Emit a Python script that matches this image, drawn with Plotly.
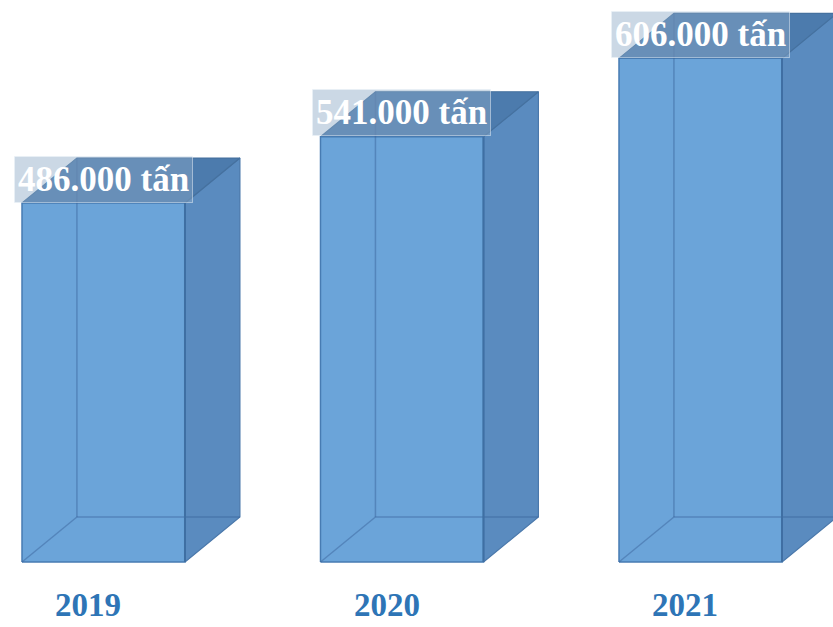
import plotly.graph_objects as go

# ---- data ----
years = ["2019", "2020", "2021"]
values = [486, 541, 606]          # nghìn tấn
labels = ["486.000 tấn", "541.000 tấn", "606.000 tấn"]

# ---- geometry / style constants ----
AXIS_BASE = 188.3      # value at the bottom of the boxes
BAR_W = 0.546          # front-face width (x units)
DX = 0.184             # depth offset (x units)
DY = 37.3              # depth offset (y units)

FRONT = "#6ba4d9"
RIGHT = "#5a8bbf"
TOP = "#4c7bad"
EDGE = "#477bb2"
INNER = "rgba(55,95,150,0.45)"

fig = go.Figure()

def poly(xs, ys, fill, line, width=1.2):
    fig.add_trace(go.Scatter(x=xs + [xs[0]], y=ys + [ys[0]], mode="lines",
                             fill="toself", fillcolor=fill,
                             line=dict(color=line, width=width),
                             hoverinfo="skip", showlegend=False))

def seg(xs, ys, color, width=1.5):
    fig.add_trace(go.Scatter(x=xs, y=ys, mode="lines",
                             line=dict(color=color, width=width),
                             hoverinfo="skip", showlegend=False))

for i, v in enumerate(values):
    x0 = i - BAR_W / 2
    x1 = i + BAR_W / 2
    B = AXIS_BASE
    # right face
    poly([x1, x1 + DX, x1 + DX, x1], [B, B + DY, v + DY, v], RIGHT, "#4a78ab")
    # left (see-through) face
    poly([x0, x0 + DX, x0 + DX, x0], [B, B + DY, v + DY, v],
         "rgba(90,140,200,0.25)", "rgba(0,0,0,0)", 0)
    # top face
    poly([x0, x1, x1 + DX, x0 + DX], [v, v, v + DY, v + DY], TOP, "#45719f")
    # front face
    poly([x0, x1, x1, x0], [B, B, v, v], FRONT, EDGE, 1.5)
    # inner (back) edges visible through the glass
    seg([x0 + DX, x0 + DX], [B + DY, v + DY], INNER)
    seg([x0 + DX, x1 + DX], [B + DY, B + DY], INNER)
    seg([x0, x0 + DX], [B, B + DY], INNER)
    seg([x1, x1], [B, v], "#3f6fa3", 2)

    # value label
    fig.add_annotation(x=i, y=v, yshift=24, text=f"<b>{labels[i]}</b>",
                       showarrow=False, xanchor="center", yanchor="middle",
                       font=dict(family="Liberation Serif", size=35, color="white"),
                       bgcolor="rgba(140,168,198,0.45)",
                       bordercolor="rgba(235,242,248,0.5)", borderwidth=1,
                       borderpad=3)
    # year label
    fig.add_annotation(x=i, xshift=-15, y=0.005, yref="paper",
                       text=f"<b>{years[i]}</b>", showarrow=False,
                       xanchor="center", yanchor="bottom",
                       height=36, valign="middle", borderpad=0,
                       font=dict(family="Liberation Serif", size=33, color="#2e75b6"))

fig.update_layout(
    width=833, height=627,
    margin=dict(l=0, r=0, t=0, b=0),
    paper_bgcolor="white", plot_bgcolor="white",
    xaxis=dict(range=[-0.3467, 2.4439], visible=False, fixedrange=True),
    yaxis=dict(range=[134.4, 654.4], visible=False, fixedrange=True),
    showlegend=False,
)

fig.write_html("out.html")
